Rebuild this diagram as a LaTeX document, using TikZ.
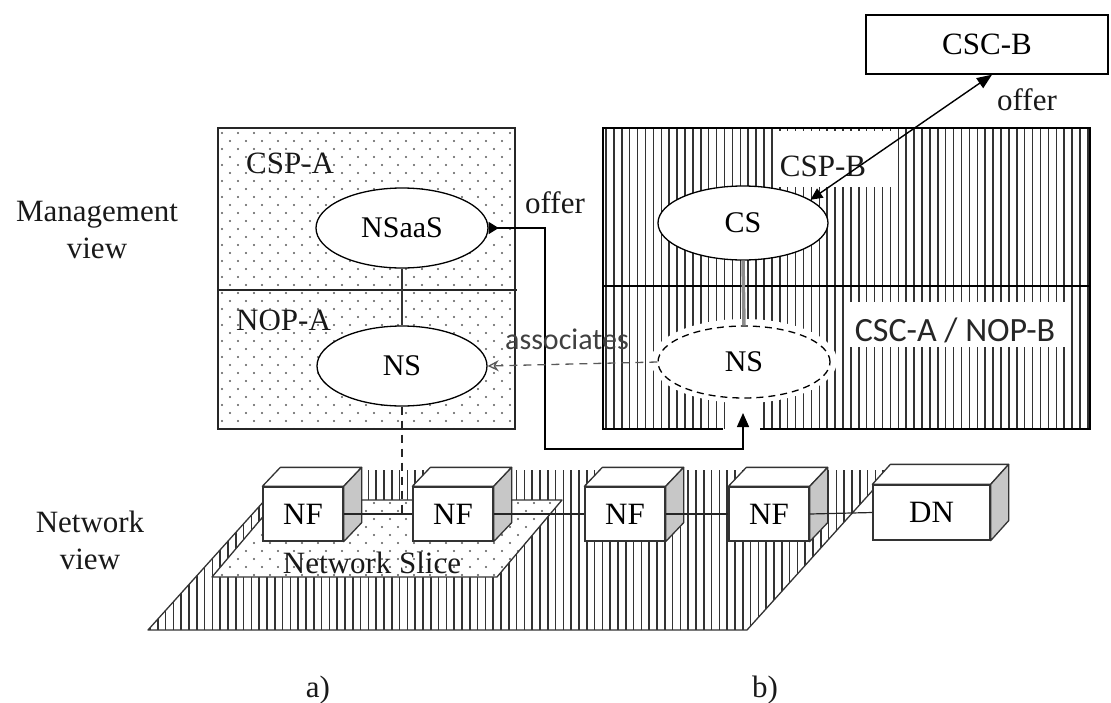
\documentclass[tikz,border=0pt]{standalone}
\usepackage{fontspec}
\setmainfont{Liberation Serif}
\newfontfamily\calfont{Carlito}
\usetikzlibrary{arrows.meta,shapes.geometric}
\begin{document}
\begin{tikzpicture}[x=1pt,y=-1pt,
  txt/.style={font=\fontsize{31}{37}\selectfont, inner sep=0pt, text=black!90},
  ell/.style={ellipse, draw, fill=white, line width=1.3pt, inner sep=0pt, font=\fontsize{30}{36}\selectfont},
  hatch/.style={draw=black!80, line width=1.45pt},
  dotc/.style={fill=black!65},
  cubefront/.style={draw=black!80, fill=white, line width=1.3pt, minimum width=80pt, minimum height=54pt, inner sep=0pt, font=\fontsize{31}{36}\selectfont},
  cubeline/.style={draw=black!80, line width=1.3pt, line join=round},
  link/.style={draw=black!85, line width=1.2pt},
]
\useasboundingbox (0,0) rectangle (1111,702);

% ---------------- side labels ----------------
\node[txt, align=center] (mv) at (97,230) {Management\\view};
\node[txt, align=center] (nv) at (90,540) {Network\\view};
\node[txt] (la) at (318,690) {a)};
\node[txt] (lb) at (765,690) {b)};

% ---------------- network platform ----------------
\begin{scope}
  \clip (148,630) -- (747,630) -- (891,470) -- (292,470) -- cycle;
  \foreach \i in {0,...,96} \draw[hatch] (150+\i*7.8,470) -- ++(0,160);
\end{scope}
\draw[black!80, line width=1.3pt, line join=round] (292,470) -- (148,630) -- (747,630) -- (891,470);

% network slice
\fill[white] (212,577) -- (497,577) -- (562,500) -- (277,500) -- cycle;
\begin{scope}
  \clip (212,577) -- (497,577) -- (562,500) -- (277,500) -- cycle;
  \foreach \j in {0,...,10}{
    \pgfmathsetmacro\off{mod(\j,2)*8}
    \foreach \i in {0,...,23}{\fill[dotc] (214+\off+\i*16,503+\j*8) circle (1.15);}}
\end{scope}
\draw[black!80, line width=1.3pt, line join=round] (212,577) -- (497,577) -- (562,500) -- (277,500) -- cycle;
\node[txt] (slice) at (372,563) {Network Slice};

% ---------------- cubes ----------------
\newcommand\mycube[3]{% name, dx, dy
  \filldraw[cubeline, fill=white] (#1.north west) -- ++(#2,-#3) -- ([xshift=#2pt,yshift=#3pt]#1.north east) -- (#1.north east) -- cycle;
  \filldraw[cubeline, fill=black!22] (#1.north east) -- ([xshift=#2pt,yshift=#3pt]#1.north east) -- ([xshift=#2pt,yshift=#3pt]#1.south east) -- (#1.south east) -- cycle;
}
\node[cubefront] (nf1) at (303,514) {NF};
\mycube{nf1}{18}{19}
\node[cubefront] (nf2) at (453,514) {NF};
\mycube{nf2}{18}{19}
\node[cubefront] (nf3) at (625,514) {NF};
\mycube{nf3}{18}{19}
\node[cubefront] (nf4) at (769,514) {NF};
\mycube{nf4}{18}{19}
\node[cubefront, minimum width=117pt, minimum height=55pt] (dn) at (931.5,512.5) {DN};
\mycube{dn}{18}{20}

\draw[link] (nf1.east) -- (nf2.west);
\draw[link] (nf2.east) -- (nf3.west);
\draw[link] (nf3.east) -- (nf4.west);
\draw[link] (nf4.east) -- (dn.west);

% ---------------- left panel (CSP-A / NOP-A) ----------------
\fill[white] (218,128) rectangle (515,429);
\begin{scope}
  \clip (218,128) rectangle (515,429);
  \foreach \j in {0,...,38}{
    \pgfmathsetmacro\off{mod(\j,2)*8}
    \foreach \i in {0,...,19}{\fill[dotc] (222+\off+\i*16,133+\j*8) circle (1.15);}}
\end{scope}
\draw[black!85, line width=1.5pt] (218,128) rectangle (515,429);
\draw[black!85, line width=1.5pt] (218,290) -- (517,290);
\node[txt, anchor=west] (cspa) at (246,163) {CSP-A};
\node[txt, anchor=west] (nopa) at (236,320) {NOP-A};

\node[ell, minimum width=172pt, minimum height=80pt] (NSaaS) at (402,228) {NSaaS};
\node[ell, minimum width=170pt, minimum height=80pt] (NSa) at (402,366) {NS};
\draw[black!80, line width=1.4pt] (NSaaS.south) -- (NSa.north);

% ---------------- right panel (CSP-B / CSC-A / NOP-B) ----------------
\begin{scope}
  \clip (603,128) rectangle (1090,429);
  \foreach \i in {0,...,61} \draw[hatch] (606+\i*7.9,128) -- ++(0,301);
\end{scope}
\fill[white] (777,131) rectangle (897,187);
\fill[white] (848,302) rectangle (1068,347);
\fill[white] (744,361) ellipse [x radius=93, y radius=42];
\fill[white] (728,380) rectangle (760,433);
\draw[black, line width=1.7pt] (723,429) -- (603,429) -- (603,128) -- (1090,128) -- (1090,429) -- (760,429);
\draw[black, line width=1.6pt] (603,286) -- (1090,286);
\node[txt] (cspb) at (823,166) {CSP-B};
\node[inner sep=0pt, font=\calfont\fontsize{34}{40}\selectfont, text=black!85] (cscanopb) at (955,330) {CSC-A / NOP-B};

\node[ell, minimum width=170pt, minimum height=74pt] (CS) at (743,223) {CS};
\node[ell, dashed, dash pattern=on 7pt off 5pt, minimum width=172pt, minimum height=72pt] (NSb) at (744,362) {NS};
\draw[black!45, line width=3.5pt] (CS.south) -- (NSb.north);

% CSC-B
\node[draw, line width=1.4pt, minimum width=242pt, minimum height=59pt, inner sep=0pt, font=\fontsize{31}{36}\selectfont] (CSCB) at (987,44.5) {CSC-B};

% ---------------- connectors ----------------
\coordinate (tipB) at (743,413);
\coordinate (bend) at (545,449);
\draw[black, line width=1.4pt, {Triangle[reversed,length=10pt,width=12pt]}-{Triangle[length=14pt,width=12pt]}]
  (NSaaS.east) -| (bend) -| (tipB);
\node[txt] (offerA) at (555,203) {offer};

\draw[black, line width=1.4pt, {Triangle[length=12pt,width=11pt]}-{Triangle[length=15pt,width=12pt]}]
  (CS.19) -- ([xshift=5pt]CSCB.south);
\node[txt] (offerB) at (1027,100) {offer};

\draw[black!65, line width=1.3pt, dash pattern=on 8pt off 6pt, -{Stealth[open,length=11pt,width=11pt]}]
  (NSb.west) -- (NSa.east);
\node[inner sep=0pt, font=\calfont\fontsize{30}{36}\selectfont, text=black!75] (assoc) at (567,339) {associates};

\coordinate (dropB) at (402,514);
\draw[black!85, line width=1.4pt, dash pattern=on 8pt off 6pt] (NSa.south) -- (dropB);
\end{tikzpicture}
\end{document}
